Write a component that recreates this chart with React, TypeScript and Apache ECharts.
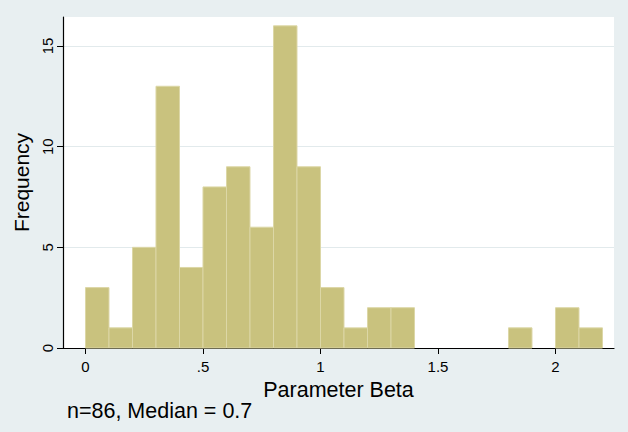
import React, { useEffect, useRef } from "react";
import * as echarts from "echarts";

const binStarts = [0, 0.1, 0.2, 0.3, 0.4, 0.5, 0.6, 0.7, 0.8, 0.9, 1.0, 1.1, 1.2, 1.3, 1.4, 1.5, 1.6, 1.7, 1.8, 1.9, 2.0, 2.1];
const counts = [3, 1, 5, 13, 4, 8, 9, 6, 16, 9, 3, 1, 2, 2, 0, 0, 0, 0, 1, 0, 2, 1];
const binWidth = 0.1;
const xTicks = [0, 0.5, 1, 1.5, 2];
const xTickLabels = ["0", ".5", "1", "1.5", "2"];
const yTicks = [0, 5, 10, 15];
const note = "n=86, Median = 0.7";

const FONT = "'Liberation Sans', Arial, sans-serif";

export default function App() {
  const ref = useRef<HTMLDivElement>(null);
  useEffect(() => {
    if (!ref.current) return;
    const chart = echarts.init(ref.current, undefined, { renderer: "svg" });
    const data = binStarts
      .map((s, i) => [s, s + binWidth, counts[i]])
      .filter((d) => d[2] > 0);
    chart.setOption({
      animation: false,
      backgroundColor: "#e8eff1",
      textStyle: { fontFamily: FONT },
      grid: {
        left: 63,
        right: 14,
        top: 17,
        bottom: 84,
        show: true,
        backgroundColor: "#ffffff",
        borderWidth: 0,
      },
      xAxis: {
        type: "value",
        min: -0.0957,
        max: 2.249,
        name: "Parameter Beta",
        nameLocation: "middle",
        nameGap: 25,
        nameTextStyle: { fontSize: 21.5, color: "#000", fontFamily: FONT },
        axisLine: { show: true, onZero: false, lineStyle: { color: "#000", width: 1.2 } },
        axisTick: { show: true, length: 6, customValues: xTicks, lineStyle: { color: "#000" } },
        axisLabel: {
          customValues: xTicks,
          fontSize: 15,
          color: "#000",
          margin: 11,
          fontFamily: FONT,
          formatter: (v: number) => {
            const i = xTicks.findIndex((t) => Math.abs(t - v) < 1e-6);
            return i >= 0 ? xTickLabels[i] : "";
          },
        },
        splitLine: { show: false },
      },
      yAxis: {
        type: "value",
        min: 0,
        max: 16.44,
        interval: 5,
        name: "Frequency",
        nameLocation: "middle",
        nameGap: 28,
        nameTextStyle: { fontSize: 21, color: "#000", fontFamily: FONT },
        axisLine: { show: true, onZero: false, lineStyle: { color: "#000", width: 1.2 } },
        axisTick: { show: true, length: 6, customValues: yTicks, lineStyle: { color: "#000" } },
        axisLabel: {
          customValues: yTicks,
          rotate: 90,
          fontSize: 15,
          color: "#000",
          margin: 8,
          fontFamily: FONT,
        },
        splitLine: { show: true, lineStyle: { color: "#e2eaec", width: 1.2 } },
      },
      graphic: [
        {
          type: "text",
          left: 67,
          top: 400,
          style: { text: note, fontSize: 21.5, fill: "#000", fontFamily: FONT },
        },
      ],
      series: [
        {
          type: "custom",
          renderItem: (params: any, api: any) => {
            const x0 = api.value(0);
            const x1 = api.value(1);
            const y = api.value(2);
            const p0 = api.coord([x0, y]);
            const p1 = api.coord([x1, 0]);
            return {
              type: "rect",
              shape: { x: p0[0], y: p0[1], width: p1[0] - p0[0], height: p1[1] - p0[1] },
              style: { fill: "#c9c27e", stroke: "#dcd7a6", lineWidth: 1 },
            };
          },
          encode: { x: [0, 1], y: 2 },
          data,
        },
      ],
    });
    return () => chart.dispose();
  }, []);
  return (
    <div
      ref={ref}
      style={{ position: "fixed", left: 0, top: 0, width: 628, height: 432 }}
    />
  );
}
